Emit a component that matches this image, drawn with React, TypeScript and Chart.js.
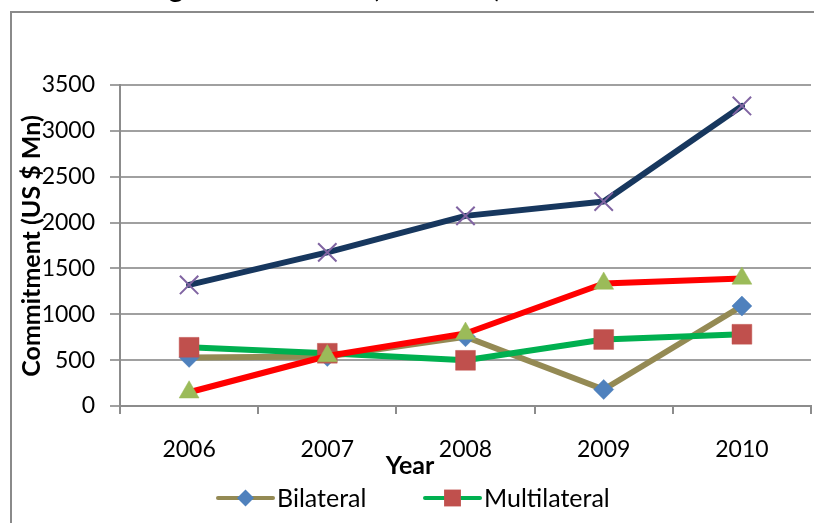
import React, { useEffect, useRef } from "react";
import { Chart, registerables } from "chart.js";

Chart.register(...registerables);

// Commitments by source, US $ Mn
const years = ["2006", "2007", "2008", "2009", "2010"];
const bilateral = [530, 540, 755, 180, 1090];
const multilateral = [640, 575, 498, 725, 782];
const others = [150, 545, 790, 1336, 1391];
const total = [1320, 1675, 2073, 2229, 3272];
const yTicks = [0, 500, 1000, 1500, 2000, 2500, 3000, 3500];
const seriesNames = ["Bilateral", "Multilateral", "Others", "Total"];

const titleLead = "Fundin";
const chartTitle = "Funding Commitment (2006-10)";
const yTitle = "Commitment (US $ Mn)";
const xTitle = "Year";

const W = 814;
const H = 523;
const FONT = "Lato, 'Open Sans', sans-serif";
const AXIS_GRAY = "#8c8c8c";
const GRID_GRAY = "#a0a0a0";

type Style = {
  line: string;
  marker: string;
  shape: "rectRot" | "rect" | "triangle" | "crossRot";
  radius: number;
};

const styles: Style[] = [
  { line: "#948a54", marker: "#4f81bd", shape: "rectRot", radius: 10 },
  { line: "#00b050", marker: "#c0504d", shape: "rect", radius: 14 },
  { line: "#ff0000", marker: "#9bbb59", shape: "triangle", radius: 11.5 },
  { line: "#17375e", marker: "#8064a2", shape: "crossRot", radius: 13 },
];

const seriesData = [bilateral, multilateral, others, total];

function drawMarker(ctx: CanvasRenderingContext2D, s: Style, x: number, y: number, r: number) {
  ctx.save();
  ctx.fillStyle = s.marker;
  ctx.strokeStyle = s.marker;
  ctx.beginPath();
  if (s.shape === "rectRot") {
    ctx.moveTo(x, y - r);
    ctx.lineTo(x + r, y);
    ctx.lineTo(x, y + r);
    ctx.lineTo(x - r, y);
    ctx.closePath();
    ctx.fill();
  } else if (s.shape === "rect") {
    const h = r * Math.SQRT1_2;
    ctx.rect(x - h, y - h, 2 * h, 2 * h);
    ctx.fill();
  } else if (s.shape === "triangle") {
    ctx.moveTo(x, y - r);
    ctx.lineTo(x + r * 0.866, y + r / 2);
    ctx.lineTo(x - r * 0.866, y + r / 2);
    ctx.closePath();
    ctx.fill();
  } else {
    const h = r * Math.SQRT1_2;
    ctx.lineWidth = 2;
    ctx.moveTo(x - h, y - h);
    ctx.lineTo(x + h, y + h);
    ctx.moveTo(x - h, y + h);
    ctx.lineTo(x + h, y - h);
    ctx.stroke();
  }
  ctx.restore();
}

// Frame and the chart title (mostly above the visible area)
const backdrop = {
  id: "backdrop",
  beforeDraw(chart: Chart) {
    const ctx = chart.ctx;
    ctx.save();
    ctx.fillStyle = "#ffffff";
    ctx.fillRect(0, 0, W, H);
    ctx.strokeStyle = "#8a8a8a";
    ctx.lineWidth = 2;
    ctx.beginPath();
    ctx.moveTo(11, H + 10);
    ctx.lineTo(11, 12);
    ctx.lineTo(W + 10, 12);
    ctx.stroke();
    ctx.font = `30px ${FONT}`;
    ctx.fillStyle = "#000";
    ctx.textAlign = "left";
    ctx.textBaseline = "alphabetic";
    const gw = ctx.measureText("g").width;
    const x0 = 176 - ctx.measureText(titleLead).width - gw / 2;
    ctx.fillText(chartTitle, x0, -3);
    ctx.restore();
  },
};

// Axis titles and a line-plus-marker legend
const annotations = {
  id: "annotations",
  afterDraw(chart: Chart) {
    const ctx = chart.ctx;
    ctx.save();
    ctx.fillStyle = "#000";
    ctx.font = `bold 25px ${FONT}`;
    ctx.textAlign = "center";
    ctx.textBaseline = "middle";
    ctx.fillText(xTitle, 410, 466);
    ctx.save();
    ctx.translate(32, 246);
    ctx.rotate(-Math.PI / 2);
    ctx.fillText(yTitle, 0, 0);
    ctx.restore();

    const cols = [218, 425];
    const rows = [498, 548];
    ctx.font = `25px ${FONT}`;
    ctx.textAlign = "left";
    seriesNames.forEach((name, i) => {
      const s = styles[i];
      const x = cols[i % 2];
      const y = rows[Math.floor(i / 2)];
      ctx.strokeStyle = s.line;
      ctx.lineWidth = 4;
      ctx.lineCap = "round";
      ctx.beginPath();
      ctx.moveTo(x, y);
      ctx.lineTo(x + 55, y);
      ctx.stroke();
      drawMarker(ctx, s, x + 27.5, y, s.radius * 0.85);
      ctx.fillStyle = "#000";
      ctx.fillText(name, x + 59, y + 1);
    });
    ctx.restore();
  },
};

export default function App() {
  const ref = useRef<HTMLCanvasElement>(null);

  useEffect(() => {
    const canvas = ref.current;
    if (!canvas) return;
    const chart = new Chart(canvas, {
      type: "line",
      data: {
        labels: years,
        datasets: seriesNames.map((name, i) => ({
          label: name,
          data: seriesData[i],
          order: seriesNames.length - i,
          borderColor: styles[i].line,
          backgroundColor: styles[i].line,
          borderWidth: 6,
          borderJoinStyle: "round" as const,
          borderCapStyle: "round" as const,
          tension: 0,
          fill: false,
          clip: 20,
          pointStyle: styles[i].shape,
          pointRadius: styles[i].radius,
          pointHoverRadius: styles[i].radius,
          pointBackgroundColor: styles[i].marker,
          pointBorderColor: styles[i].marker,
          pointBorderWidth: styles[i].shape === "crossRot" ? 2 : 0.5,
        })),
      },
      options: {
        responsive: false,
        animation: false,
        devicePixelRatio: 1,
        layout: { autoPadding: false, padding: { top: 85, right: 3, left: 0, bottom: 0 } },
        plugins: {
          legend: { display: false },
          title: { display: false },
          tooltip: { enabled: false },
        },
        scales: {
          x: {
            offset: true,
            grid: {
              offset: true,
              drawOnChartArea: false,
              drawTicks: true,
              tickLength: 8,
              color: AXIS_GRAY,
              lineWidth: 2,
            },
            border: { color: AXIS_GRAY, width: 2 },
            ticks: {
              color: "#000",
              font: { family: FONT, size: 23 },
              padding: 22,
              maxRotation: 0,
              autoSkip: false,
            },
            afterFit: (s: any) => {
              s.height = H - 406;
              s.paddingLeft = 0;
              s.paddingRight = 0;
            },
          },
          y: {
            min: 0,
            max: 3500,
            afterBuildTicks: (s: any) => {
              s.ticks = yTicks.map((v) => ({ value: v }));
            },
            grid: {
              color: GRID_GRAY,
              lineWidth: 2,
              drawTicks: true,
              tickLength: 10,
            },
            border: { color: AXIS_GRAY, width: 2 },
            ticks: {
              color: "#000",
              font: { family: FONT, size: 23 },
              padding: 15,
              callback: (v: any) => String(v),
            },
            afterFit: (s: any) => {
              s.width = 120;
            },
          },
        },
      },
      plugins: [backdrop, annotations],
    });
    return () => chart.destroy();
  }, []);

  return (
    <div
      style={{
        position: "absolute",
        left: 0,
        top: 0,
        width: W,
        height: H,
        overflow: "hidden",
        background: "#fff",
      }}
    >
      <canvas ref={ref} width={W} height={H} style={{ display: "block", width: W, height: H }} />
    </div>
  );
}
